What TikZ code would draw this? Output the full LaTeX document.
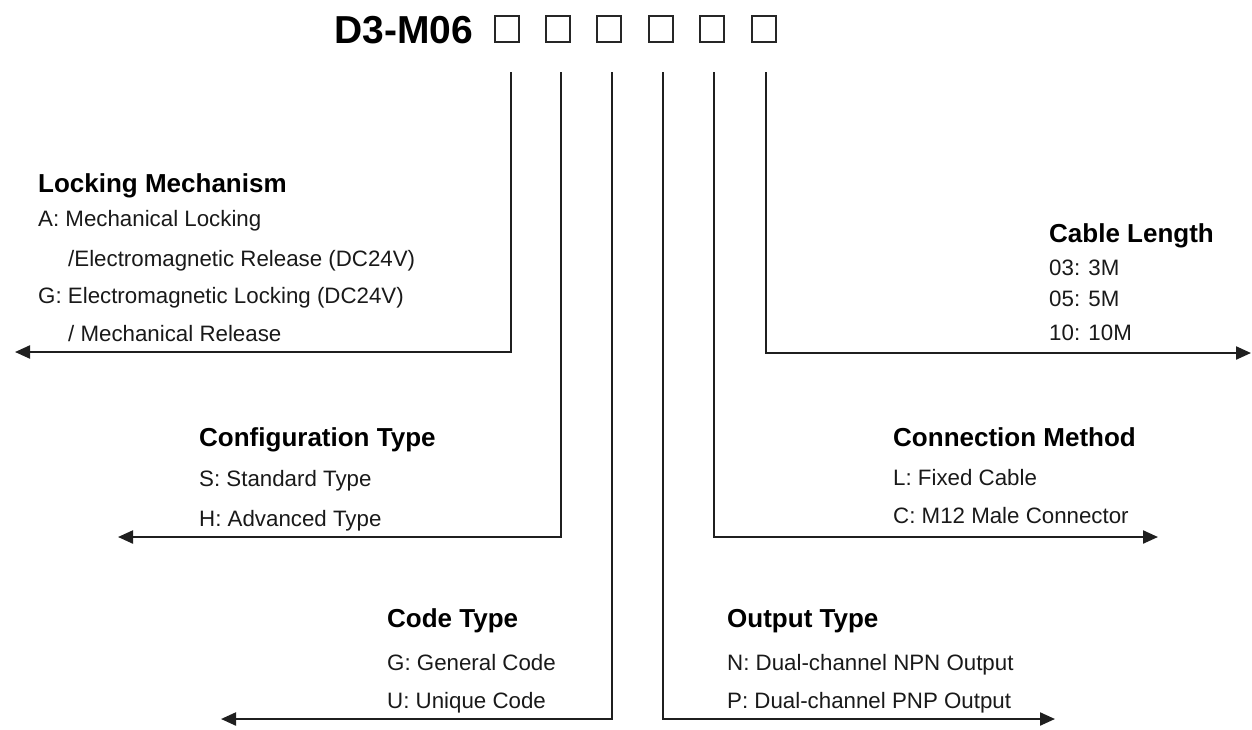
\documentclass[tikz,border=0pt]{standalone}
\usepackage{fontspec}
\setmainfont{Liberation Sans}
\usetikzlibrary{arrows.meta}
\tikzset{
  head/.style={anchor=base west,inner sep=0pt,font=\fontsize{26}{28}\selectfont\bfseries,text=black},
  item/.style={anchor=base west,inner sep=0pt,font=\fontsize{22.3}{26}\selectfont,text=black!90},
  codebox/.style={draw=black!85,line width=1.6pt,minimum width=24pt,minimum height=26pt,inner sep=0pt},
  lead/.style={draw=black!88,line width=2.2pt,-{Triangle[length=15pt,width=13pt]}}
}
\begin{document}
\begin{tikzpicture}[x=1pt,y=-1pt]
\useasboundingbox (0,0) rectangle (1252,729);
% title
\node[anchor=base west,inner sep=0pt,font=\fontsize{39}{42}\selectfont\bfseries] (title) at (334,43) {D3-M06};
\node[codebox] (b1) at (507,29) {};
\node[codebox] (b2) at (558,29) {};
\node[codebox] (b3) at (609,29) {};
\node[codebox] (b4) at (661,29) {};
\node[codebox] (b5) at (712,29) {};
\node[codebox] (b6) at (764,29) {};
% connector coordinates
\coordinate (s1) at (511,72);
\coordinate (s2) at (561,72);
\coordinate (s3) at (612,72);
\coordinate (s4) at (663,72);
\coordinate (s5) at (714,72);
\coordinate (s6) at (766,72);
\coordinate (e1) at (15,352);
\coordinate (e2) at (118,537);
\coordinate (e3) at (221,719);
\coordinate (e4) at (1055,719);
\coordinate (e5) at (1158,537);
\coordinate (e6) at (1251,353);
% Locking mechanism
\node[head] (h1) at (38,192) {Locking Mechanism};
\node[item] (h1a) at (38,226) {A: Mechanical Locking};
\node[item] (h1b) at (68,266) {/Electromagnetic Release (DC24V)};
\node[item] (h1c) at (38,303) {G: Electromagnetic Locking (DC24V)};
\node[item] (h1d) at (68,341) {/ Mechanical Release};
% Configuration type
\node[head] (h2) at (199,446) {Configuration Type};
\node[item] (h2a) at (199,486) {S: Standard Type};
\node[item] (h2b) at (199,526) {H: Advanced Type};
% Code type
\node[head] (h3) at (387,627) {Code Type};
\node[item] (h3a) at (387,670) {G: General Code};
\node[item] (h3b) at (387,708) {U: Unique Code};
% Output type
\node[head] (h4) at (727,627) {Output Type};
\node[item] (h4a) at (727,670) {N: Dual-channel NPN Output};
\node[item] (h4b) at (727,708) {P: Dual-channel PNP Output};
% Connection method
\node[head] (h5) at (893,446) {Connection Method};
\node[item] (h5a) at (893,485) {L: Fixed Cable};
\node[item] (h5b) at (893,523) {C: M12 Male Connector};
% Cable length
\node[head] (h6) at (1049,242) {Cable Length};
\node[item] (h6a) at (1049,275) {03: 3M};
\node[item] (h6b) at (1049,306) {05: 5M};
\node[item] (h6c) at (1049,340) {10: 10M};
% connectors
\draw[lead] (s1) |- (e1);
\draw[lead] (s2) |- (e2);
\draw[lead] (s3) |- (e3);
\draw[lead] (s4) |- (e4);
\draw[lead] (s5) |- (e5);
\draw[lead] (s6) |- (e6);
\end{tikzpicture}
\end{document}
